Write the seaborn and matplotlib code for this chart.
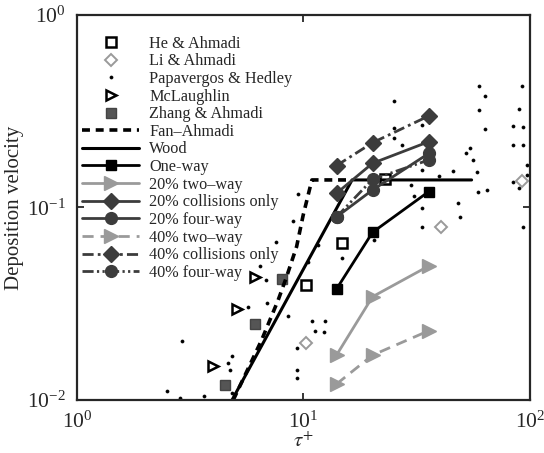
import matplotlib
matplotlib.use("Agg")
import matplotlib.pyplot as plt
import seaborn as sns

# ---------------------------------------------------------------------------
# data (tau+, deposition velocity)
# ---------------------------------------------------------------------------

he_tau = [10.3, 14.8, 22.9]
he_v = [0.0396, 0.0651, 0.140]

li_tau = [10.3, 40.7, 91.9]
li_v = [0.0197, 0.0795, 0.138]

pap_tau = [2.90, 2.50, 2.85, 3.64, 4.82, 4.82, 4.66, 4.74, 5.71, 6.88,
           8.57, 6.83, 6.43, 7.60, 8.96, 9.49, 10.5, 11.6, 9.33, 9.33,
           9.33, 10.9, 12.4, 11.2, 12.3, 14.8, 20.4, 25.1, 25.1, 25.1,
           27.2, 33.5, 33.5, 29.8, 30.8, 33.5, 33.5, 39.5, 45.7, 48.0,
           49.1, 52.5, 54.3, 56.3, 58.2, 59.1, 64.4, 59.8, 63.3, 59.8,
           63.1, 91.9, 89.7, 84.4, 93.4, 84.4, 93.4, 96.7, 96.7, 84.4,
           89.7, 93.4]
pap_v = [0.0203, 0.0112, 0.0102, 0.0105, 0.0109, 0.0169, 0.0155, 0.0144, 0.0303, 0.0318,
         0.0272, 0.0418, 0.0497, 0.0659, 0.0851, 0.1175, 0.0523, 0.0636, 0.0187, 0.0144,
         0.0130, 0.0256, 0.0256, 0.0229, 0.0225, 0.0547, 0.0678, 0.358, 0.258, 0.229,
         0.2105, 0.268, 0.157, 0.131, 0.115, 0.099, 0.0795, 0.146, 0.155, 0.106,
         0.0889, 0.191, 0.2045, 0.1765, 0.1535, 0.120, 0.123, 0.429, 0.380, 0.321,
         0.255, 0.429, 0.324, 0.2635, 0.262, 0.212, 0.210, 0.166, 0.1475, 0.136,
         0.126, 0.0795]

mcl_tau = [6.11, 5.07, 4.00]
mcl_v = [0.0437, 0.0297, 0.0151]

zhang_tau = [8.01, 6.11, 4.50]
zhang_v = [0.0424, 0.0247, 0.0119]

fan_tau = [4.9, 6.54, 7.74, 8.43, 9.33, 9.98, 10.9, 16.0]
fan_v = [0.01, 0.0205, 0.0331, 0.0437, 0.0626, 0.0914, 0.139, 0.139]

wood_tau = [4.84, 16.4, 55.3]
wood_v = [0.01, 0.139, 0.139]

sim_tau = [14, 20.2, 35.8]
oneway_v = [0.0377, 0.0743, 0.121]
two20_v = [0.0171, 0.0344, 0.0497]
coll20_v = [0.1185, 0.1697, 0.2197]
four20_v = [0.0893, 0.1233, 0.191]
two40_v = [0.0121, 0.0171, 0.0229]
coll40_v = [0.165, 0.217, 0.299]
four40_v = [0.0893, 0.140, 0.1766]

# ---------------------------------------------------------------------------
# style
# ---------------------------------------------------------------------------

sns.set_style("ticks")
plt.rcParams["font.family"] = ["Liberation Serif", "DejaVu Serif"]
plt.rcParams["mathtext.fontset"] = "stix"
plt.rcParams["axes.linewidth"] = 1.6

BLACK = "#000000"
LIGHT = "#9a9a9a"
DARK = "#3c3c3c"

fig = plt.figure(figsize=(5.44, 4.53), dpi=100)
ax = fig.add_axes([0.1415, 0.117, 0.8325, 0.85])


def markers_only(x, y, label, marker, ms, fc, ec, mew):
    sns.lineplot(x=x, y=y, ax=ax, estimator=None, sort=False, linestyle="",
                 marker=marker, markersize=ms, markerfacecolor=fc,
                 markeredgecolor=ec, markeredgewidth=mew, label=label)


def sim_line(y, label, color, ls, marker, ms, lw=2.0):
    sns.lineplot(x=sim_tau, y=y, ax=ax, estimator=None, sort=False,
                 color=color, linestyle=ls, linewidth=lw, marker=marker,
                 markersize=ms, markerfacecolor=color, markeredgecolor=color,
                 markeredgewidth=1.0, label=label)


markers_only(pap_tau, pap_v, "Papavergos & Hedley", "o", 2.2, BLACK, BLACK, 0.5)
markers_only(he_tau, he_v, "He & Ahmadi", "s", 6.5, "none", BLACK, 1.8)
markers_only(li_tau, li_v, "Li & Ahmadi", "D", 6.5, "none", LIGHT, 1.4)
markers_only(mcl_tau, mcl_v, "McLaughlin", ">", 7.5, "none", BLACK, 1.8)
markers_only(zhang_tau, zhang_v, "Zhang & Ahmadi", "s", 7.5, "#555555", "#444444", 1.0)

sns.lineplot(x=fan_tau, y=fan_v, ax=ax, estimator=None, sort=False, color=BLACK,
             linestyle=(0, (2.2, 1.6)), linewidth=2.6, label="Fan\u2013Ahmadi")
sns.lineplot(x=wood_tau, y=wood_v, ax=ax, estimator=None, sort=False, color=BLACK,
             linewidth=2.2, label="Wood")

sim_line(oneway_v, "One-way", BLACK, "-", "s", 7.5)
sim_line(two20_v, "20% two\u2013way", LIGHT, "-", ">", 10)
sim_line(coll20_v, "20% collisions only", DARK, "-", "D", 8)
sim_line(four20_v, "20% four-way", DARK, "-", "o", 8.5)
sim_line(two40_v, "40% two\u2013way", LIGHT, (0, (4, 2.5)), ">", 10)
sim_line(coll40_v, "40% collisions only", DARK, (0, (4, 1.5, 1, 1.5)), "D", 8)
sim_line(four40_v, "40% four-way", DARK, (0, (4, 1.2, 0.8, 1.2, 0.8, 1.2)), "o", 8.5)

ax.set_xscale("log")
ax.set_yscale("log")
ax.set_xlim(1, 100)
ax.set_ylim(0.01, 1)
ax.minorticks_off()
ax.tick_params(which="major", direction="in", length=5, width=1.3,
               top=True, right=True, labelsize=15.5, pad=8)
ax.set_xlabel(r"$\tau^{+}$", fontsize=15, labelpad=0)
ax.set_ylabel("Deposition velocity", fontsize=15, labelpad=2)

order = ["He & Ahmadi", "Li & Ahmadi", "Papavergos & Hedley", "McLaughlin",
         "Zhang & Ahmadi", "Fan\u2013Ahmadi", "Wood", "One-way",
         "20% two\u2013way", "20% collisions only", "20% four-way",
         "40% two\u2013way", "40% collisions only", "40% four-way"]
handles, labels = ax.get_legend_handles_labels()
lookup = dict(zip(labels, handles))
ax.legend([lookup[k] for k in order], order, loc="upper left",
          bbox_to_anchor=(0.012, 0.946), frameon=False, fontsize=11.7,
          handlelength=3.5, handletextpad=0.6, labelspacing=0.1,
          borderpad=0, borderaxespad=0)

fig.savefig("out.png", dpi=100)
